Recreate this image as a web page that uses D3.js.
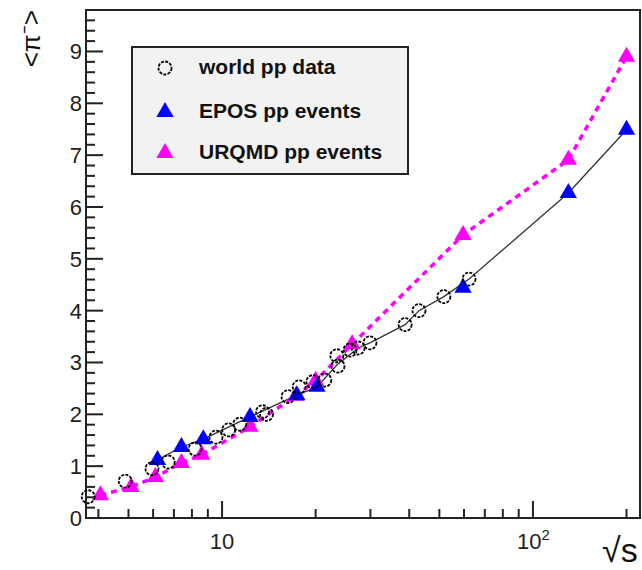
<!DOCTYPE html>
<html>
<head>
<meta charset="utf-8">
<script src="https://cdn.jsdelivr.net/npm/d3@7"></script>
<style>
  body { margin: 0; background: #fff; }
  svg { display: block; font-family: "Liberation Sans", Arial, sans-serif; }
</style>
</head>
<body>
<svg id="chart" width="642" height="570"></svg>
<script>
// world pp data (open circles)
var worldS = [3.71, 4.88, 5.95, 6.71, 8.19, 9.56, 10.5, 11.4, 13.5, 13.9, 16.3, 17.7,
  19.6, 21.4, 23.4, 23.6, 25.8, 27.4, 29.9, 38.8, 43.0, 51.7, 62.3];
var worldPi = [0.41, 0.71, 0.95, 1.08, 1.33, 1.56, 1.70, 1.81, 2.05, 2.00, 2.34, 2.53,
  2.63, 2.66, 3.13, 2.93, 3.24, 3.28, 3.38, 3.73, 4.00, 4.27, 4.61];

// EPOS pp events
var eposS = [6.2, 7.4, 8.7, 12.3, 17.4, 20.2, 59.6, 130, 200];
var eposPi = [1.12, 1.37, 1.52, 1.95, 2.37, 2.53, 4.44, 6.27, 7.49];

// URQMD pp events
var urqmdS = [4.06, 5.1, 6.1, 7.4, 8.6, 12.3, 17.3, 20, 26.2, 59.6, 130, 200];
var urqmdPi = [0.44, 0.60, 0.79, 1.06, 1.22, 1.76, 2.36, 2.65, 3.35, 5.46, 6.91, 8.9];

// thin black guide line, vertices
var curveS = [6.2, 7.4, 8.7, 12.3, 17.4, 20.2, 23.4, 27.4, 29.9, 38.8, 43.0, 51.7, 62.3, 130, 200];
var curvePi = [1.12, 1.37, 1.52, 1.95, 2.37, 2.53, 2.95, 3.28, 3.38, 3.73, 4.00, 4.27, 4.61, 6.27, 7.49];

var legendLabels = ['world pp data', 'EPOS pp events', 'URQMD pp events'];
var yMajor = [0, 1, 2, 3, 4, 5, 6, 7, 8, 9];

var svg = d3.select('#chart');
var padL = 86, padR = 640, padT = 10, padB = 518;

var x = d3.scaleLog().domain([3.65, 221]).range([padL, padR]);
var y = d3.scaleLinear().domain([0, 9.8]).range([padB, padT]);

function zip(a, b) { return a.map(function(d, i) { return [d, b[i]]; }); }
var world = zip(worldS, worldPi);
var epos = zip(eposS, eposPi);
var urqmd = zip(urqmdS, urqmdPi);
var curve = zip(curveS, curvePi);

// frame
svg.append('rect')
  .attr('x', padL).attr('y', padT)
  .attr('width', padR - padL).attr('height', padB - padT)
  .attr('fill', 'none').attr('stroke', '#222').attr('stroke-width', 2);

// x ticks (inside, pointing up)
var xt = x.ticks().filter(function(d) { return d >= 3.65 && d <= 221; });
svg.append('g').selectAll('line').data(xt).enter().append('line')
  .attr('x1', function(d) { return x(d); })
  .attr('x2', function(d) { return x(d); })
  .attr('y1', padB)
  .attr('y2', function(d) {
    var isMajor = Math.abs(Math.log10(d) - Math.round(Math.log10(d))) < 1e-6;
    return padB - (isMajor ? 17 : 9);
  })
  .attr('stroke', '#222').attr('stroke-width', 2);

var xl = svg.append('g').attr('font-size', 22).attr('fill', '#222');
xl.append('text').attr('x', x(10)).attr('y', 549)
  .attr('text-anchor', 'middle').text('10');
var t100 = xl.append('text').attr('x', x(100) - 16).attr('y', 549)
  .attr('text-anchor', 'start');
t100.append('tspan').text('10');
t100.append('tspan').attr('dy', -9).attr('font-size', 15).text('2');

// y ticks (inside, pointing right)
var yt = d3.range(0, 49).map(function(i) { return i * 0.2; });
svg.append('g').selectAll('line').data(yt).enter().append('line')
  .attr('x1', padL)
  .attr('x2', function(d) {
    return padL + (Math.abs(d - Math.round(d)) < 1e-6 ? 17 : 9);
  })
  .attr('y1', function(d) { return y(d); })
  .attr('y2', function(d) { return y(d); })
  .attr('stroke', '#222').attr('stroke-width', 2);

svg.append('g').attr('font-size', 22).attr('fill', '#222')
  .selectAll('text').data(yMajor).enter().append('text')
  .attr('x', 82)
  .attr('y', function(d) { return y(d) + 8; })
  .attr('text-anchor', 'end')
  .text(function(d) { return d; });

// axis titles
svg.append('text').attr('x', 602).attr('y', 562)
  .attr('font-size', 34).attr('fill', '#111')
  .text('\u221As');

svg.append('text')
  .attr('transform', 'translate(40,10) rotate(-90)')
  .attr('text-anchor', 'end')
  .attr('font-size', 26).attr('fill', '#111')
  .text('<\u03C0\u207B>');

// lines
var line = d3.line()
  .x(function(d) { return x(d[0]); })
  .y(function(d) { return y(d[1]); });

svg.append('path').datum(curve)
  .attr('d', line)
  .attr('fill', 'none').attr('stroke', '#333').attr('stroke-width', 1.3);

svg.append('path').datum(urqmd)
  .attr('d', line)
  .attr('fill', 'none').attr('stroke', '#ff00ff')
  .attr('stroke-width', 3.5).attr('stroke-dasharray', '6,5');

// markers
var tri = d3.symbol().type(d3.symbolTriangle).size(130);

function drawTriangles(data, color) {
  svg.append('g').selectAll('path').data(data).enter().append('path')
    .attr('d', tri)
    .attr('transform', function(d) {
      return 'translate(' + x(d[0]) + ',' + y(d[1]) + ')';
    })
    .attr('fill', color);
}
drawTriangles(urqmd, '#ff00ff');
drawTriangles(epos, '#0000ff');

svg.append('g').selectAll('circle').data(world).enter().append('circle')
  .attr('cx', function(d) { return x(d[0]); })
  .attr('cy', function(d) { return y(d[1]); })
  .attr('r', 6.5)
  .attr('fill', 'none').attr('stroke', '#000').attr('stroke-width', 1.8)
  .attr('stroke-dasharray', '3,1.3');

// legend
var lg = svg.append('g');
lg.append('rect')
  .attr('x', 132).attr('y', 47).attr('width', 276).attr('height', 127)
  .attr('fill', '#f2f2f2').attr('stroke', '#222').attr('stroke-width', 2);

var rowsY = [68, 112, 153];
lg.append('circle').attr('cx', 165).attr('cy', rowsY[0]).attr('r', 6.5)
  .attr('fill', 'none').attr('stroke', '#000').attr('stroke-width', 1.8)
  .attr('stroke-dasharray', '3,1.3');
lg.append('path').attr('d', tri)
  .attr('transform', 'translate(165,' + rowsY[1] + ')').attr('fill', '#0000ff');
lg.append('path').attr('d', tri)
  .attr('transform', 'translate(165,' + rowsY[2] + ')').attr('fill', '#ff00ff');

lg.selectAll('text').data(legendLabels).enter().append('text')
  .attr('x', 199)
  .attr('y', function(d, i) { return rowsY[i] + 6; })
  .attr('font-size', 21).attr('font-weight', 'bold').attr('fill', '#111')
  .text(function(d) { return d; });
</script>
</body>
</html>
